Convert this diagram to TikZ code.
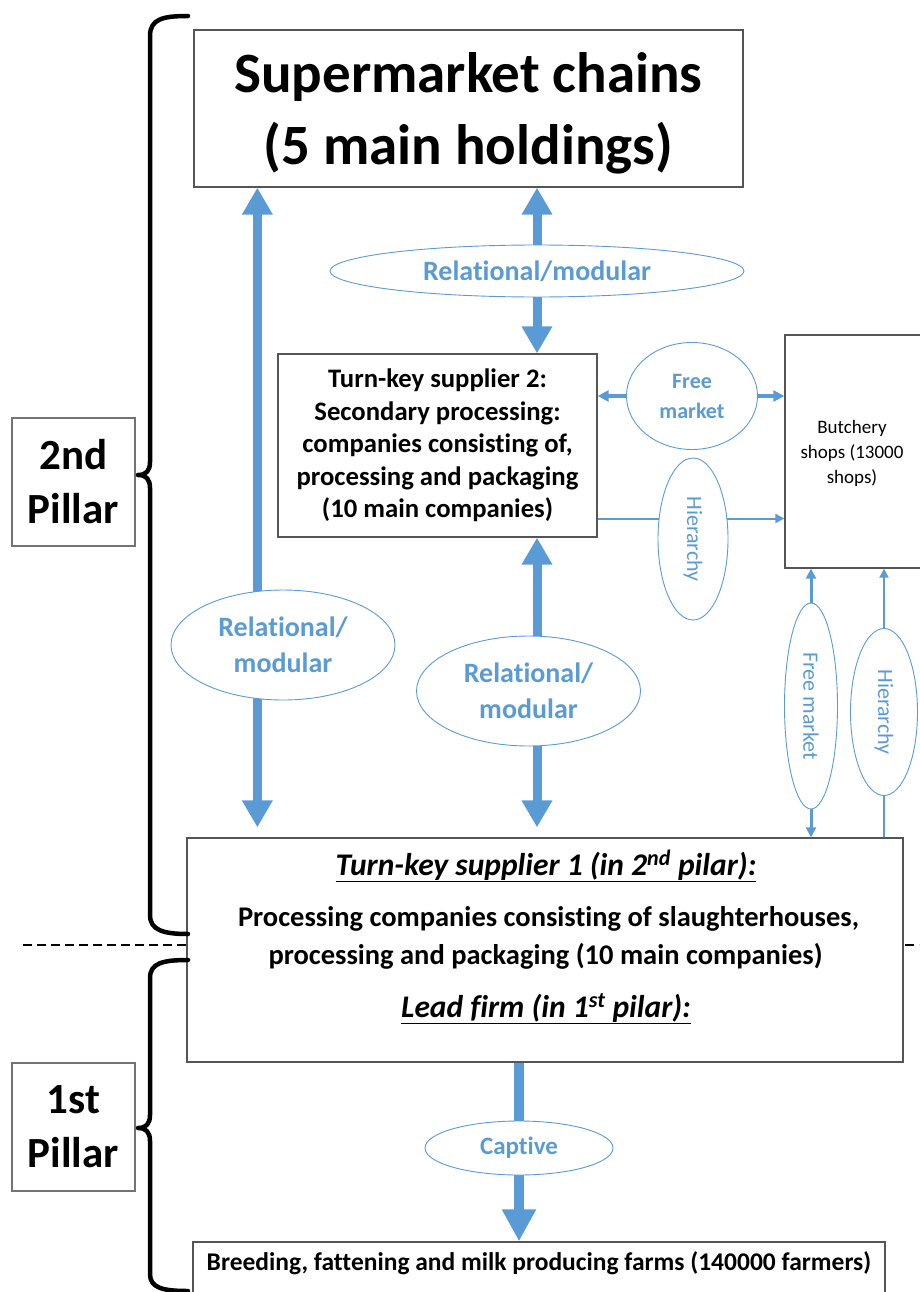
\documentclass[tikz,border=0pt]{standalone}
\usepackage{fontspec}
\setmainfont{Carlito}[Ligatures=NoCommon]
\usetikzlibrary{arrows.meta,shapes.geometric}
\definecolor{flowblue}{HTML}{5B9BD5}
\definecolor{edgegray}{HTML}{555555}
\pgfdeclarelayer{bg}
\pgfsetlayers{bg,main}
\newcommand{\fsz}[2]{\fontsize{#1}{#2}\selectfont}
\tikzset{
  BigTri/.tip={Triangle[length=27pt,width=29pt]},
  MedTri/.tip={Triangle[length=10pt,width=10pt]},
}

\begin{document}
\begin{tikzpicture}[x=1pt,y=-1pt,
  box/.style={rectangle,draw=edgegray,line width=1.3pt,fill=white,inner sep=0pt,align=center},
  label/.style={inner sep=0pt,align=center},
  rel/.style={ellipse,draw=flowblue,line width=0.9pt,fill=white,inner sep=0pt,text=flowblue,align=center},
  pillarbox/.style={box,draw=black!55,minimum width=123pt,minimum height=128pt,font=\fsz{43}{54}\bfseries},
  bigflow/.style={draw=flowblue,line width=9pt},
  medflow/.style={draw=flowblue,line width=3.5pt,arrows={-Triangle[length=11pt,width=11pt]}},
  thinflow/.style={draw=flowblue,line width=2pt,arrows={-Triangle[length=9pt,width=9pt]}},
  bracestroke/.style={draw=black,line width=4.5pt,line cap=round,line join=round},
]
\useasboundingbox (0,0) rectangle (919,1292);

% ---------- boxes ----------
\node[box,minimum width=549pt,minimum height=157pt] (super) at (468.5,108.5) {};
\node[label,font=\fsz{57}{72}\bfseries] (supertext) at (468.5,113)
  {Supermarket chains\\(5 main holdings)};

\node[box,minimum width=319pt,minimum height=183pt,font=\fsz{26.7}{32.5}\bfseries]
  (tks2) at (437.5,445.5) {Turn-key supplier 2:\\Secondary processing:\\companies consisting of,\\processing and packaging\\(10 main companies)};

\node[box,minimum width=137pt,minimum height=233pt] (butch) at (853.5,451.5) {};
\node[label,font=\fsz{19}{25}] (butchtext) at (852,453.5) {Butchery\\shops (13000\\shops)};

\node[box,minimum width=716pt,minimum height=224pt] (tks1) at (545,950) {};
\node[anchor=base,inner sep=0pt,font=\fsz{31.5}{36}\bfseries\itshape] (tkA) at (546,875)
  {\underline{Turn-key supplier 1 (in 2\textsuperscript{nd} pilar):}};
\node[anchor=base,inner sep=0pt,font=\fsz{28.5}{34}\bfseries] (tkB) at (548.5,926)
  {Processing companies consisting of slaughterhouses,};
\node[anchor=base,inner sep=0pt,font=\fsz{28.5}{34}\bfseries] (tkC) at (545.5,964)
  {processing and packaging (10 main companies)};
\node[anchor=base,inner sep=0pt,font=\fsz{31.5}{36}\bfseries\itshape] (tkD) at (546,1017)
  {\underline{Lead firm (in 1\textsuperscript{st} pilar):}};

\node[box,minimum width=692pt,minimum height=60pt] (farms) at (539,1272) {};
\node[anchor=base,inner sep=0pt,font=\fsz{25.5}{30}\bfseries] (farmtext) at (539,1270)
  {Breeding, fattening and milk producing farms (140000 farmers)};

\node[pillarbox] (p2) at (73.5,482) {2nd\\Pillar};
\node[pillarbox] (p1) at (73.5,1127) {1st\\Pillar};

% ---------- governance labels ----------
\node[rel,minimum width=414pt,minimum height=52pt,font=\fsz{28}{36}\bfseries]
  (rmtop) at (537,271) {Relational/modular};
\node[rel,minimum width=224pt,minimum height=110pt,font=\fsz{28}{36}\bfseries]
  (rmleft) at (283,645) {Relational/\\modular};
\node[rel,minimum width=224pt,minimum height=110pt,font=\fsz{28}{36}\bfseries]
  (rmmid) at (528.5,691) {Relational/\\modular};
\node[rel,minimum width=131pt,minimum height=107pt,font=\fsz{22}{30}\bfseries]
  (fmh) at (692,396) {Free\\market};
\node[rel,rotate=-90,minimum width=162pt,minimum height=70pt,font=\fsz{22}{26}]
  (hierh) at (693,539) {Hierarchy};
\node[rel,rotate=-90,minimum width=206pt,minimum height=53pt,font=\fsz{22}{26}]
  (fmv) at (811,706) {Free market};
\node[rel,rotate=-90,minimum width=167pt,minimum height=67pt,font=\fsz{22}{26}]
  (hierv) at (884,712) {Hierarchy};
\node[rel,minimum width=188pt,minimum height=54pt,font=\fsz{25}{30}\bfseries]
  (captive) at (519,1148) {Captive};

% ---------- connectors and separators (behind the boxes) ----------
\begin{pgfonlayer}{bg}
  % boundary between the two pillars
  \draw[black,line width=2.5pt,dash pattern=on 9pt off 5pt] (23,945) -- (919,945);

  % supermarkets <-> turn-key supplier 1
  \draw[bigflow,arrows={BigTri-BigTri},shorten >=10pt]
    ([xshift=64pt]super.south west) -- ([xshift=64pt]super.south west |- tks1.north);
  % supermarkets <-> turn-key supplier 2
  \draw[bigflow,arrows={BigTri-BigTri}]
    (rmtop |- super.south) -- (rmtop |- tks2.north);
  % turn-key supplier 2 <-> turn-key supplier 1
  \draw[bigflow,arrows={BigTri-BigTri},shorten >=10pt]
    (rmtop |- tks2.south) -- (rmtop |- tks1.north);
  % lead firm -> farms
  \draw[bigflow,line width=10pt,arrows={-Triangle[length=32pt,width=32pt]}]
    (captive |- tks1.south) -- (captive |- farms.north);

  % links to the butchery shops
  \draw[medflow] (fmh.west) -- (fmh.west -| tks2.east);
  \draw[medflow] (fmh.east) -- (fmh.east -| butch.west);
  \draw[thinflow] ([yshift=-73pt]tks2.east) -- ([yshift=-73pt]tks2.east -| butch.west);
  \draw[draw=flowblue,line width=3pt,arrows={MedTri-MedTri}]
    (fmv |- butch.south) -- (fmv |- tks1.north);
  \draw[thinflow] (hierv |- tks1.north) -- (hierv |- butch.south);
\end{pgfonlayer}

% ---------- pillar braces ----------
\draw[bracestroke] (188,16) .. controls (163,16) and (150,19) .. (150,36)
  -- (150,462) .. controls (150,471) and (146,475) .. (138,475)
  .. controls (146,475) and (150,479) .. (150,488)
  -- (150,915) .. controls (150,930) and (163,934) .. (188,934);
\draw[bracestroke] (188,960) .. controls (163,960) and (150,963) .. (150,978)
  -- (150,1115) .. controls (150,1124) and (146,1128) .. (138,1128)
  .. controls (146,1128) and (150,1132) .. (150,1141)
  -- (150,1274) .. controls (150,1288) and (163,1291) .. (188,1291);
\end{tikzpicture}
\end{document}
